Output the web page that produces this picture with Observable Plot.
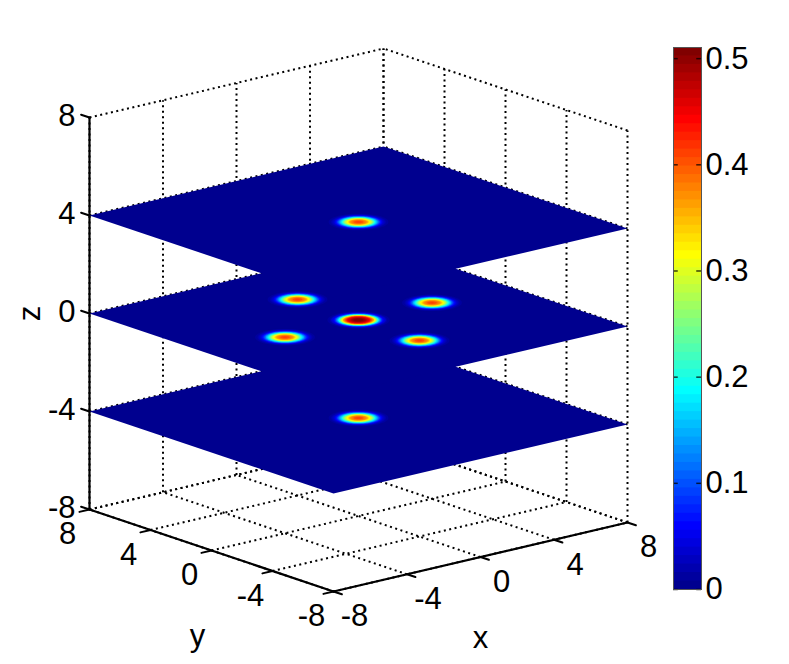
<!DOCTYPE html>
<html>
<head>
<meta charset="utf-8">
<script src="https://cdn.jsdelivr.net/npm/d3@7"></script>
<script src="https://cdn.jsdelivr.net/npm/@observablehq/plot@0.6"></script>
<style>
html,body{margin:0;padding:0;background:#fff;}
#chart{position:relative;width:789px;height:664px;overflow:hidden;}
#chart svg{position:absolute;top:0;background:transparent;}
</style>
</head>
<body>
<div id="chart"></div>
<script>
// ---- data ----
const axisTicks = [-8, -4, 0, 4, 8];
const planeLevels = [-4, 0, 4];
const planeValue = 0;
const peakX = [0, 0, 4, -4, 0, 0, 0];
const peakY = [0, 4, 0, 0, -4, 0, 0];
const peakZ = [0, 0, 0, 0, 0, 4, -4];
const ringRadius = [1.35,1.3,1.25,1.2,1.15,1.1,1.05,1.0,.95,.9,.85,.8,.75,.7,.65,.6,.55,.5,.45,.4,.35,.3,.25,.2,.15,.1];
const centerValues = [.006,.01,.015,.022,.032,.045,.062,.085,.115,.15,.19,.235,.28,.32,.36,.39,.415,.44,.455,.47,.48,.49,.50,.505,.508,.51];
const sideValues = [.003,.005,.008,.013,.019,.027,.038,.052,.07,.09,.115,.145,.175,.205,.235,.265,.29,.315,.335,.355,.37,.38,.39,.40,.405,.41];
const colorbarTicks = [0, 0.1, 0.2, 0.3, 0.4, 0.5];
const colorMax = 0.5105;
const levelCount = 64;
const jetStops = ["#00008f", "#0000ff", "#00ffff", "#ffff00", "#ff0000", "#800000"];
const jetStopLevels = [0, 7, 23, 39, 55, 63];

// ---- jet colormap as a threshold colour scale ----
const jetAt = d3.scaleLinear(jetStopLevels, jetStops).interpolate(d3.interpolateRgb);
const levels = d3.range(levelCount);
const colorScale = {
  type: "threshold",
  domain: levels.slice(1).map(i => i * colorMax / levelCount),
  range: levels.map(jetAt)
};

// ---- view of the 3-D box (axonometric, as the picture shows it) ----
const project = ([x, y, z]) => [
  358 + 18.375 * x - 15.25 * y,
  319.5 - 4.3125 * x - 5.125 * y - 24.5 * z
];
const toRow = (p, id, extra = {}) => {
  const [px, py] = project(p);
  return {px, py, id, ...extra};
};
const polyline = (pts, id, extra) => pts.map(p => toRow(p, id, extra));

// grid
const lo = axisTicks[0], hi = axisTicks[axisTicks.length - 1];
const grid = [];
axisTicks.forEach(t => {
  grid.push(polyline([[t, hi, lo], [t, hi, hi]], `wx${t}`));      // back wall y = 8
  grid.push(polyline([[hi, t, lo], [hi, t, hi]], `wy${t}`));      // back wall x = 8
  grid.push(polyline([[lo, hi, t], [hi, hi, t]], `hx${t}`));      // wall rings
  grid.push(polyline([[hi, lo, t], [hi, hi, t]], `hy${t}`));
  grid.push(polyline([[t, lo, lo], [t, hi, lo]], `fx${t}`));      // floor
  grid.push(polyline([[lo, t, lo], [hi, t, lo]], `fy${t}`));
});

// axes and ticks
const tickLen = 0.55;
const axes = [
  polyline([[lo, hi, lo], [lo, lo, lo]], "ay"),
  polyline([[lo, lo, lo], [hi, lo, lo]], "ax"),
  polyline([[lo, hi, lo], [lo, hi, hi]], "az")
];
const ticks = [];
axisTicks.forEach(t => {
  ticks.push(polyline([[t, lo, lo], [t, lo - tickLen, lo]], `tx${t}`));
  ticks.push(polyline([[lo, t, lo], [lo - tickLen, t, lo]], `ty${t}`));
  ticks.push(polyline([[lo, hi, t], [lo, hi + tickLen, t]], `tz${t}`));
});

// planes with their peaks, painted from the bottom up
const angles = d3.range(0, 72).map(i => i / 72 * 2 * Math.PI);
const surfaces = [];
planeLevels.forEach(level => {
  surfaces.push(polyline([[lo, lo, level], [hi, lo, level], [hi, hi, level], [lo, hi, level]], `p${level}`, {v: planeValue}));
  peakX.forEach((cx, k) => {
    if (peakZ[k] !== level) return;
    const isCenter = cx === 0 && peakY[k] === 0 && level === 0;
    const vals = isCenter ? centerValues : sideValues;
    ringRadius.forEach((r, j) => {
      surfaces.push(polyline(
        angles.map(a => [cx + r * Math.cos(a), peakY[k] + r * Math.sin(a), level]),
        `r${level}_${k}_${j}`, {v: vals[j]}
      ));
    });
  });
});

const labelFont = {fontFamily: "'Liberation Sans Narrow', 'Liberation Sans', Arial, sans-serif", fontSize: 31, fill: "black"};
const xLabels = axisTicks.map(t => ({...toRow([t, lo, lo], ""), t: String(t)}));
const yLabels = axisTicks.map(t => ({...toRow([lo, t, lo], ""), t: String(t)}));
const zLabels = axisTicks.map(t => ({...toRow([lo, hi, t], ""), t: String(t)}));
const xTitle = [{...toRow([0, lo, lo], ""), t: "x"}];
const yTitle = [{...toRow([lo, 0, lo], ""), t: "y"}];
const zTitle = [{...toRow([lo, hi, 0], ""), t: "z"}];

const main = Plot.plot({
  width: 789, height: 664,
  margin: 0,
  x: {domain: [0, 789], range: [0, 789], axis: null},
  y: {domain: [0, 664], range: [0, 664], axis: null},
  color: colorScale,
  marks: [
    Plot.line(grid.flat(), {x: "px", y: "py", z: "id", stroke: "black", strokeWidth: 2, strokeDasharray: "2,3.5", strokeLinecap: "butt"}),
    Plot.line(axes.flat(), {x: "px", y: "py", z: "id", stroke: "black", strokeWidth: 2.2}),
    Plot.line(ticks.flat(), {x: "px", y: "py", z: "id", stroke: "black", strokeWidth: 2}),
    Plot.line(surfaces.flat(), {x: "px", y: "py", z: "id", fill: "v", stroke: "none"}),
    Plot.text(xLabels, {x: "px", y: "py", text: "t", dx: 21, dy: 25, textAnchor: "middle", lineAnchor: "middle", ...labelFont}),
    Plot.text(yLabels, {x: "px", y: "py", text: "t", dx: -22, dy: 25, textAnchor: "middle", lineAnchor: "middle", ...labelFont}),
    Plot.text(zLabels, {x: "px", y: "py", text: "t", dx: -14, dy: -1, textAnchor: "end", lineAnchor: "middle", ...labelFont}),
    Plot.text(xTitle, {x: "px", y: "py", text: "t", dx: 0, dy: 81, textAnchor: "middle", lineAnchor: "middle", ...labelFont}),
    Plot.text(yTitle, {x: "px", y: "py", text: "t", dx: -14, dy: 86, textAnchor: "middle", lineAnchor: "middle", ...labelFont}),
    Plot.text(zTitle, {x: "px", y: "py", text: "t", dx: -59, dy: 0, rotate: -90, textAnchor: "middle", lineAnchor: "middle", ...labelFont})
  ]
});

// ---- colour bar: its own plot with a real value axis ----
const bands = levels.map(i => ({top: (i + 1) * colorMax / levelCount, v: (i + 0.5) * colorMax / levelCount})).reverse();
const bar = Plot.plot({
  width: 116, height: 664,
  marginLeft: 0, marginRight: 88, marginTop: 47, marginBottom: 75,
  x: {domain: [0, 1], axis: null},
  y: {domain: [0, colorMax], axis: null},
  color: colorScale,
  marks: [
    Plot.rectY(bands, {x1: 0, x2: 1, y1: 0, y2: "top", fill: "v"}),
    Plot.ruleY(colorbarTicks, {x1: 0, x2: 0.17, stroke: "black", strokeOpacity: 0.75, strokeWidth: 1.5}),
    Plot.ruleY(colorbarTicks, {x1: 0.83, x2: 1, stroke: "black", strokeOpacity: 0.75, strokeWidth: 1.5}),
    Plot.frame({stroke: "#555", strokeWidth: 1}),
    Plot.axisY(colorbarTicks, {anchor: "right", tickSize: 0, tickPadding: 4, tickFormat: d => String(d), label: null, ...labelFont})
  ]
});
bar.style.left = "673px";

const holder = document.getElementById("chart");
main.style.left = "0px";
holder.append(main, bar);
</script>
</body>
</html>
